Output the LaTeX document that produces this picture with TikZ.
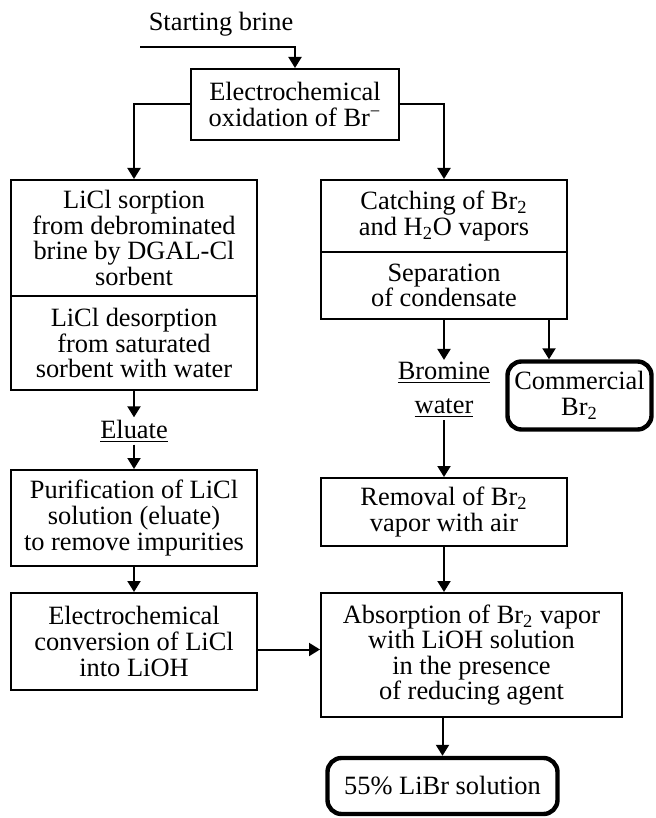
\documentclass[tikz,border=0pt]{standalone}
\usepackage{fontspec}
\setmainfont{Liberation Serif}
\usetikzlibrary{arrows.meta, positioning, calc}
\tikzset{
  proc/.style={rectangle, draw, line width=1pt, align=center, inner sep=0pt, font=\fontsize{13.2}{12.8}\selectfont},
  product/.style={rectangle, draw, line width=2.2pt, rounded corners=7pt, align=center, inner sep=0pt, font=\fontsize{13.2}{12.8}\selectfont},
  lbl/.style={align=center, inner sep=1pt, font=\fontsize{13.2}{12.8}\selectfont},
  arr/.style={-{Triangle[length=5.5pt, width=6.5pt]}, line width=1pt},
}
\newcommand{\subs}[1]{\textsubscript{#1}}

\begin{document}
\begin{tikzpicture}[x=0.5pt, y=-0.5pt]
  \useasboundingbox (0,0) rectangle (655,818);
  \node[lbl] (brine) at (221,24) {Starting brine};
  \coordinate (in) at (140,47);
  \node[proc, minimum width=104pt, minimum height=35.5pt] (oxid) at (295,104.5) {Electrochemical\\oxidation of Br\textsuperscript{−}};
  \node[proc, minimum width=123pt, minimum height=58pt] (sorp) at (134,238) {LiCl sorption\\from debrominated\\brine by DGAL-Cl\\sorbent};
  \node[proc, minimum width=123pt, minimum height=47pt] (desorp) at (134,343) {LiCl desorption\\from saturated\\sorbent with water};
  \node[proc, minimum width=123pt, minimum height=36pt] (catch) at (444,216) {Catching of Br\subs{2}\\and H\subs{2}O vapors};
  \node[proc, minimum width=123pt, minimum height=33.5pt] (sep) at (444,285.5) {Separation\\of condensate};
  \node[product, minimum width=72pt, minimum height=34pt] (comm) at (579.5,395.5) {Commercial\\Br\subs{2}};
  \node[lbl] (bw) at (444,390) {\underline{Bromine}\\[4pt]\underline{water}};
  \node[lbl] (elu) at (134,431) {\underline{Eluate}};
  \node[proc, minimum width=123pt, minimum height=48pt] (purif) at (134,518) {Purification of LiCl\\solution (eluate)\\to remove impurities};
  \node[proc, minimum width=123pt, minimum height=34pt] (removal) at (444,512) {Removal of Br\subs{2}\\vapor with air};
  \node[proc, minimum width=123pt, minimum height=48.5pt] (conv) at (134,641.5) {Electrochemical\\conversion of LiCl\\into LiOH};
  \node[proc, minimum width=150.5pt, minimum height=62pt] (absorb) at (471.5,655) {Absorption of Br\subs{2} vapor\\with LiOH solution\\in the presence\\of reducing agent};
  \node[product, minimum width=115pt, minimum height=28pt] (libr) at (442.5,786) {55\% LiBr solution};

  \draw[arr] (in) -| (oxid.north);
  \draw[arr] (oxid.west) -| (sorp.north);
  \draw[arr] (oxid.east) -| (catch.north);
  \draw[arr] (desorp.south) -- (elu.north);
  \draw[arr] (elu.south) -- (purif.north);
  \draw[arr] (purif.south) -- (conv.north);
  \draw[arr] (sep.south) -- (bw.north);
  \draw[arr] ([xshift=-15.25pt]comm.north |- sep.south) -- ([xshift=-15.25pt]comm.north);
  \draw[arr] (bw.south) -- (removal.north);
  \draw[arr] (removal.south) -- (removal.south |- absorb.north);
  \draw[arr] ([yshift=-4pt]conv.east) -- ([yshift=-4pt]conv.east -| absorb.west);
  \draw[arr] (libr.north |- absorb.south) -- (libr.north);
\end{tikzpicture}
\end{document}
